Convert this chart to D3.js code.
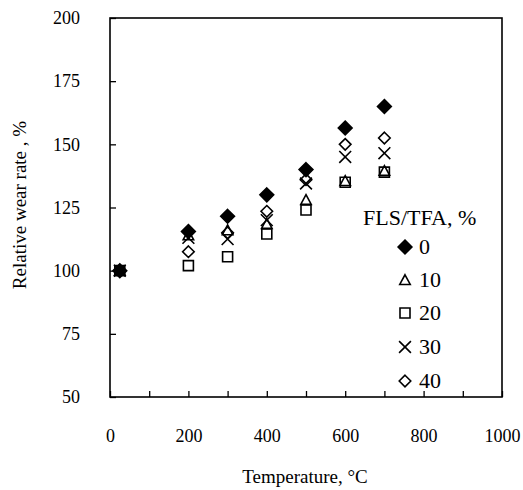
<!DOCTYPE html>
<html><head><meta charset="utf-8">
<script src="https://cdn.jsdelivr.net/npm/d3@7/dist/d3.min.js"></script>
<style>body{margin:0;background:#fff}svg{display:block}</style>
</head><body>
<svg id="c" width="523" height="490"></svg>
<script>
const temps = [25, 200, 300, 400, 500, 600, 700];
const seriesNames = ["0", "10", "20", "30", "40"];
const s0  = [100, 115.5, 121.5, 130, 140, 156.5, 165];
const s10 = [100, 114, 116, 118.5, 128, 135.5, 139.5];
const s20 = [100, 102, 105.5, 114.5, 124, 135, 139];
const s30 = [100, 113, 112.5, 120, 134.5, 145, 146.5];
const s40 = [100, 107.5, 115, 123.5, 136, 150, 152.5];
const xTicks = [0, 200, 400, 600, 800, 1000];
const xMinor = [0,100,200,300,400,500,600,700,800,900,1000];
const yTicks = [50, 75, 100, 125, 150, 175, 200];
const legendTitle = "FLS/TFA, %";
const xTitle = "Temperature, °C";
const yTitle = "Relative wear rate , %";

const svg = d3.select("#c");
const L = 110, R = 502, T = 18, B = 397;
const x = d3.scaleLinear().domain([0, 1000]).range([L, R]);
const y = d3.scaleLinear().domain([50, 200]).range([B, T]);
const font = "'Liberation Serif','Times New Roman',serif";

// frame
svg.append("rect").attr("x", L).attr("y", T).attr("width", R - L).attr("height", B - T)
  .attr("fill", "none").attr("stroke", "#000").attr("stroke-width", 1.6);

// y axis
const ya = svg.append("g").attr("transform", `translate(${L},0)`)
  .call(d3.axisLeft(y).tickValues(yTicks).tickSize(-6).tickPadding(30).tickFormat(d3.format("d")));
ya.select(".domain").remove();
ya.selectAll("line").attr("stroke-width", 1.3);
ya.selectAll("text").attr("font-family", font).attr("font-size", 18).attr("fill", "#000");

// x axis
const xa = svg.append("g").attr("transform", `translate(0,${B})`)
  .call(d3.axisBottom(x).tickValues(xMinor).tickSize(-6).tickPadding(32)
    .tickFormat(d => xTicks.includes(d) ? d : ""));
xa.select(".domain").remove();
xa.selectAll("line").attr("stroke-width", 1.3);
xa.selectAll("text").attr("font-family", font).attr("font-size", 18).attr("fill", "#000");

// titles
svg.append("text").attr("x", 305).attr("y", 483).attr("text-anchor", "middle")
  .attr("font-family", font).attr("font-size", 19).text(xTitle);
svg.append("text").attr("transform", "translate(26,205) rotate(-90)").attr("text-anchor", "middle")
  .attr("font-family", font).attr("font-size", 19).text(yTitle);

// symbols
const diamondType = { draw(ctx, size) { const r = Math.sqrt(size) / 1.45; ctx.moveTo(0, -r); ctx.lineTo(r, 0); ctx.lineTo(0, r); ctx.lineTo(-r, 0); ctx.closePath(); } };
const crossType = { draw(ctx, size) { const r = Math.sqrt(size) / 2; ctx.moveTo(-r, -r); ctx.lineTo(r, r); ctx.moveTo(r, -r); ctx.lineTo(-r, r); } };
const triType = { draw(ctx, size) { const r = Math.sqrt(size) / 2; ctx.moveTo(0, -r); ctx.lineTo(r, r * 0.85); ctx.lineTo(-r, r * 0.85); ctx.closePath(); } };
const sqType = { draw(ctx, size) { const r = Math.sqrt(size) / 2; ctx.rect(-r, -r, 2 * r, 2 * r); } };

const styles = [
  { type: diamondType, size: 100, fill: "#000" },
  { type: triType, size: 110, fill: "none" },
  { type: sqType, size: 100, fill: "none" },
  { type: crossType, size: 140, fill: "none" },
  { type: diamondType, size: 70, fill: "none" }
];
const allSeries = [s0, s10, s20, s30, s40];

const order = [4, 3, 2, 1, 0];
order.forEach(i => {
  const st = styles[i];
  const sym = d3.symbol().type(st.type).size(st.size);
  svg.append("g").selectAll("path").data(allSeries[i].map((v, j) => [temps[j], v]))
    .join("path")
    .attr("transform", d => `translate(${x(d[0])},${y(d[1])})`)
    .attr("d", sym)
    .attr("fill", st.fill).attr("stroke", "#000").attr("stroke-width", 1.6);
});

// legend
svg.append("text").attr("x", 363).attr("y", 225).attr("font-family", font).attr("font-size", 22).text(legendTitle);
const lg = svg.append("g");
const rowY = [247, 280, 313, 347, 381];
seriesNames.forEach((n, i) => {
  const st = styles[i];
  lg.append("path").attr("transform", `translate(405,${rowY[i]})`)
    .attr("d", d3.symbol().type(st.type).size(st.size)())
    .attr("fill", st.fill).attr("stroke", "#000").attr("stroke-width", 1.6);
  lg.append("text").attr("x", 419).attr("y", rowY[i] + 7).attr("font-family", font)
    .attr("font-size", 22).text(n);
});
</script>
</body></html>
